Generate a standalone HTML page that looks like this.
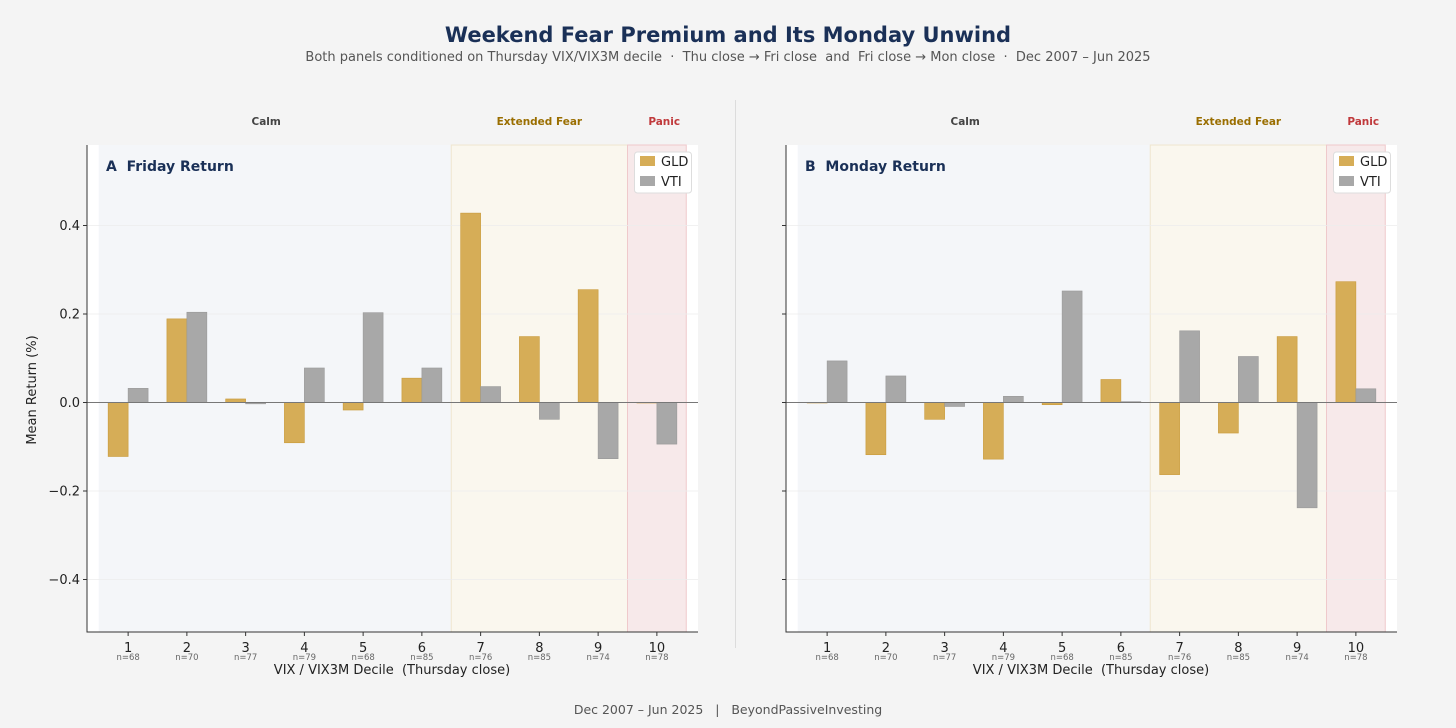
<!DOCTYPE html>
<html><head><meta charset="utf-8"><style>
html,body{margin:0;padding:0;background:#f4f4f4;}
svg{display:block;font-family:"DejaVu Sans","Liberation Sans",sans-serif;}
svg text{white-space:pre;}
</style></head><body>
<svg id="chart" width="1456" height="728">
<text x="728" y="42" text-anchor="middle" font-size="21" font-weight="bold" fill="#1a3057">Weekend Fear Premium and Its Monday Unwind</text>
<text x="728" y="61" text-anchor="middle" font-size="13" fill="#555">Both panels conditioned on Thursday VIX/VIX3M decile  ·  Thu close → Fri close  and  Fri close → Mon close  ·  Dec 2007 – Jun 2025</text>
<line x1="735.5" y1="100" x2="735.5" y2="648" stroke="#dcdcdc" stroke-width="1"/>
<text x="36" y="390" transform="rotate(-90 36 390)" text-anchor="middle" font-size="13" fill="#222">Mean Return (%)</text>
<text x="728" y="714" text-anchor="middle" font-size="12.5" fill="#555">Dec 2007 – Jun 2025   |   BeyondPassiveInvesting</text>
</svg>
<script>
const deciles = [1,2,3,4,5,6,7,8,9,10];
const counts = [68,70,77,79,68,85,76,85,74,78];
const fridayGLD = [-0.122,0.189,0.008,-0.091,-0.017,0.055,0.428,0.149,0.255,-0.001];
const fridayVTI = [0.032,0.204,-0.003,0.078,0.203,0.078,0.036,-0.038,-0.127,-0.094];
const mondayGLD = [-0.001,-0.118,-0.038,-0.128,-0.005,0.052,-0.163,-0.069,0.149,0.273];
const mondayVTI = [0.094,0.060,-0.009,0.014,0.252,0.002,0.162,0.104,-0.238,0.031];
const yTicks = [0.4,0.2,0.0,-0.2,-0.4];
const yTickLabels = ["0.4","0.2","0.0","\u22120.2","\u22120.4"];

const NS="http://www.w3.org/2000/svg";
const svg=document.getElementById('chart');
function mk(tag,attrs,parent,text){const e=document.createElementNS(NS,tag);for(const k in attrs)e.setAttribute(k,attrs[k]);if(text!==undefined)e.textContent=text;(parent||svg).appendChild(e);return e;}

const plotTop=145,plotBottom=632;
function yScale(v){return 402.5-v*442.5;}

function panel(left,letter,title,gld,vti,showLabels,key){
  const right=left+611;
  const x=v=>left+(v-0.3)*(611/10.4);
  const g=mk('g',{});
  
  
  const bg=mk('rect',{x:left,y:plotTop,width:611,height:plotBottom-plotTop,fill:'#ffffff'},g);
  
  
  const regions=[[0.5,6.5,'#f4f6f9','none','Calm','#444',x(3.35)],[6.5,9.5,'#faf7ee','#efe6cf','Extended Fear','#9a6e00',x(8)],[9.5,10.5,'#f7e9ea','#efc9cb','Panic','#c0393b',x(10.125)]];
  regions.forEach((r,i)=>{
    const rr=mk('rect',{x:x(r[0]),y:plotTop,width:x(r[1])-x(r[0]),height:plotBottom-plotTop,fill:r[2],stroke:r[3],'stroke-width':1},g);
    
    
    const t=mk('text',{x:r[6],y:125,'text-anchor':'middle','font-size':10.5,'font-weight':'bold',fill:r[5]},g,r[4]);
    
    
  });
  yTicks.forEach((v,i)=>{
    const gl=mk('line',{x1:left,x2:right,y1:yScale(v),y2:yScale(v),stroke:'#ececec','stroke-width':0.8},g);
    
    
    const tk=mk('line',{x1:left-4,x2:left,y1:yScale(v),y2:yScale(v),stroke:'#333'},g);
    
    
    if(showLabels){
      const tl=mk('text',{x:left-7,y:yScale(v)+4.5,'text-anchor':'end','font-size':13,fill:'#222'},g,yTickLabels[i]);
      
      
    }
  });
  const bw=0.34;
  deciles.forEach((d,i)=>{
    [[gld[i],'#d6ad57','#c99a3a',-bw,'gld'],[vti[i],'#a8a8a8','#999',0,'vti']].forEach(s=>{
      const y0=yScale(0),y1=yScale(s[0]);
      const b=mk('rect',{x:x(d+s[3]),y:Math.min(y0,y1),width:x(d+s[3]+bw)-x(d+s[3]),height:Math.max(Math.abs(y1-y0),0.5),fill:s[1],stroke:s[2],'stroke-width':0.6},g);
      
      
    });
    const tk=mk('line',{x1:x(d),x2:x(d),y1:plotBottom,y2:plotBottom+4,stroke:'#333'},g);
    
    
    const tl=mk('text',{x:x(d),y:plotBottom+20,'text-anchor':'middle','font-size':13,fill:'#222'},g,String(d));
    
    
    const nl=mk('text',{x:x(d),y:plotBottom+28,'text-anchor':'middle','font-size':8.5,fill:'#666'},g,'n='+counts[i]);
    
    
  });
  const zl=mk('line',{x1:left,x2:right,y1:yScale(0),y2:yScale(0),stroke:'#777','stroke-width':1},g);
  
  
  const ax=mk('path',{d:`M${left},${plotTop} V${plotBottom} H${right}`,fill:'none',stroke:'#333','stroke-width':1},g);
  
  
  const xt=mk('text',{x:left+305,y:674,'text-anchor':'middle','font-size':13,fill:'#222'},g,'VIX / VIX3M Decile  (Thursday close)');
  
  
  const pt=mk('text',{x:left+19,y:171,'font-size':14,'font-weight':'bold',fill:'#1a3057'},g,letter+'  '+title);
  
  
  const lg=mk('g',{},g);
  
  
  mk('rect',{x:left+547.5,y:152,width:57,height:41,rx:3,fill:'#fff',stroke:'#ddd'},lg);
  [['GLD','#d6ad57',161],['VTI','#a8a8a8',181]].forEach(l=>{
    const sw=mk('rect',{x:left+553,y:l[2]-5,width:15,height:10,fill:l[1]},lg);
    
    
    const lt=mk('text',{x:left+574,y:l[2]+5,'font-size':13,fill:'#222'},lg,l[0]);
    
    
  });
}
panel(87,'A','Friday Return',fridayGLD,fridayVTI,true,'friday');
panel(786,'B','Monday Return',mondayGLD,mondayVTI,false,'monday');
</script>
</body></html>
